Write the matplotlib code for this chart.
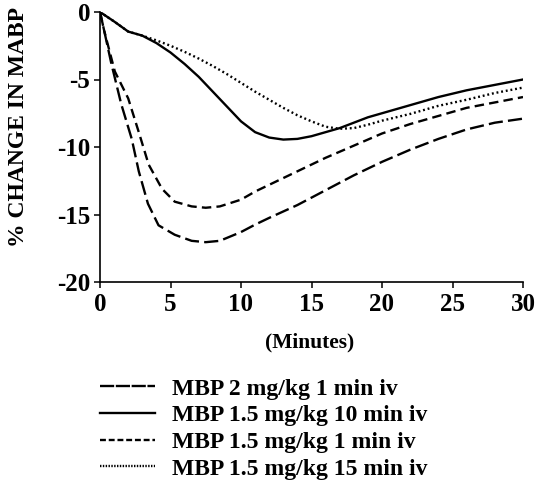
import matplotlib
matplotlib.use('Agg')
import matplotlib.pyplot as plt
from matplotlib.lines import Line2D

plt.rcParams['font.family'] = 'Liberation Serif'
plt.rcParams['font.weight'] = 'bold'
plt.rcParams['axes.unicode_minus'] = False

# MBP 2 mg/kg 1 min iv (long dash)
t_2mg = [0, 0.3, 0.8, 1.5, 2.25, 2.75, 3.4, 4.15, 5.3, 6.5, 7.5, 8.5, 10, 11, 12, 14, 16, 18, 20, 22, 24, 26, 28, 30]
v_2mg = [0, -1.4, -3.8, -6.8, -9.4, -11.8, -14.2, -15.8, -16.5, -16.95, -17.05, -16.95, -16.3, -15.75, -15.25,
         -14.3, -13.2, -12.1, -11.1, -10.2, -9.4, -8.7, -8.2, -7.9]

# MBP 1.5 mg/kg 10 min iv (solid)
t_10min = [0, 1, 2, 3, 4, 5, 6, 7, 8, 9, 10, 11, 12, 13, 14, 15, 16, 17, 18, 19, 20, 22, 24, 26, 28, 30]
v_10min = [0, -0.7, -1.45, -1.75, -2.3, -3.0, -3.85, -4.8, -5.9, -7.0, -8.1, -8.9, -9.3, -9.45, -9.4, -9.2,
           -8.9, -8.6, -8.2, -7.8, -7.5, -6.9, -6.3, -5.8, -5.4, -5.0]

# MBP 1.5 mg/kg 1 min iv (short dash)
t_1min = [0, 0.3, 1.05, 2.0, 2.75, 3.45, 4.4, 5.3, 6.5, 7.5, 8.5, 10, 11, 12, 14, 16, 18, 20, 22, 24, 26, 28, 30]
v_1min = [0, -1.4, -4.4, -6.4, -8.9, -11.3, -13.1, -14.05, -14.4, -14.5, -14.4, -13.9, -13.3, -12.8, -11.8,
          -10.8, -9.9, -9.0, -8.3, -7.7, -7.1, -6.7, -6.3]

# MBP 1.5 mg/kg 15 min iv (dotted)
t_15min = [0, 1, 2, 3, 4, 5, 6, 7, 8, 9, 10, 11, 12, 13, 14, 15, 16, 17, 18, 19, 20, 22, 24, 26, 28, 30]
v_15min = [0, -0.7, -1.45, -1.75, -2.1, -2.5, -2.95, -3.45, -4.0, -4.6, -5.25, -5.9, -6.5, -7.1, -7.65, -8.1,
           -8.5, -8.65, -8.6, -8.35, -8.05, -7.55, -6.95, -6.5, -6.0, -5.6]

labels = ['MBP 2 mg/kg 1 min iv', 'MBP 1.5 mg/kg 10 min iv',
          'MBP 1.5 mg/kg 1 min iv', 'MBP 1.5 mg/kg 15 min iv']

fig = plt.figure(figsize=(5.37, 4.95), dpi=100)
ax = fig.add_axes([100/537, 1 - 282/495, 423/537, 270/495])

lw = 1.7
ax.plot(t_2mg, v_2mg, color='black', lw=lw, dashes=(6, 2.2))
ax.plot(t_10min, v_10min, color='black', lw=lw)
ax.plot(t_1min, v_1min, color='black', lw=lw, dashes=(4, 2.2))
ax.plot(t_15min, v_15min, color='black', lw=lw, dashes=(0.8, 1.2))

ax.set_xlim(0, 30)
ax.set_ylim(-20, 0)
ax.set_xticks([0, 5, 10, 15, 20, 25, 30])
ax.set_yticks([0, -5, -10, -15, -20])
ax.spines['top'].set_visible(False)
ax.spines['right'].set_visible(False)
ax.spines['left'].set_linewidth(1.2)
ax.spines['bottom'].set_linewidth(1.2)
ax.tick_params(direction='out', length=4, width=1.1, labelsize=18)
ax.tick_params(axis='x', pad=4)
ax.tick_params(axis='y', pad=3)
for lab in ax.get_xticklabels() + ax.get_yticklabels():
    lab.set_fontweight('bold')

ax.set_xlabel('(Minutes)', fontsize=15.5, fontweight='bold')
ax.xaxis.label.set_va('center')
ax.xaxis.set_label_coords((310 - 100) / 423, (282 - 342) / 270)
ax.set_ylabel('% CHANGE IN MABP', fontsize=17, fontweight='bold')
ax.yaxis.label.set_va('center')
ax.yaxis.set_label_coords((19 - 100) / 423, (282 - 127) / 270)

handles = [Line2D([], [], color='black', lw=lw, dashes=(6, 0.7)),
           Line2D([], [], color='black', lw=lw),
           Line2D([], [], color='black', lw=lw, dashes=(2.5, 1.2)),
           Line2D([], [], color='black', lw=lw, dashes=(0.6, 0.6))]
fig.legend(handles, labels, loc='upper left', bbox_to_anchor=(100/537, 1 - 378/495),
           frameon=False, handlelength=2.35, handletextpad=0.7, borderpad=0, borderaxespad=0,
           labelspacing=0.22, prop={'weight': 'bold', 'size': 17})

fig.savefig('out.png', dpi=100)
